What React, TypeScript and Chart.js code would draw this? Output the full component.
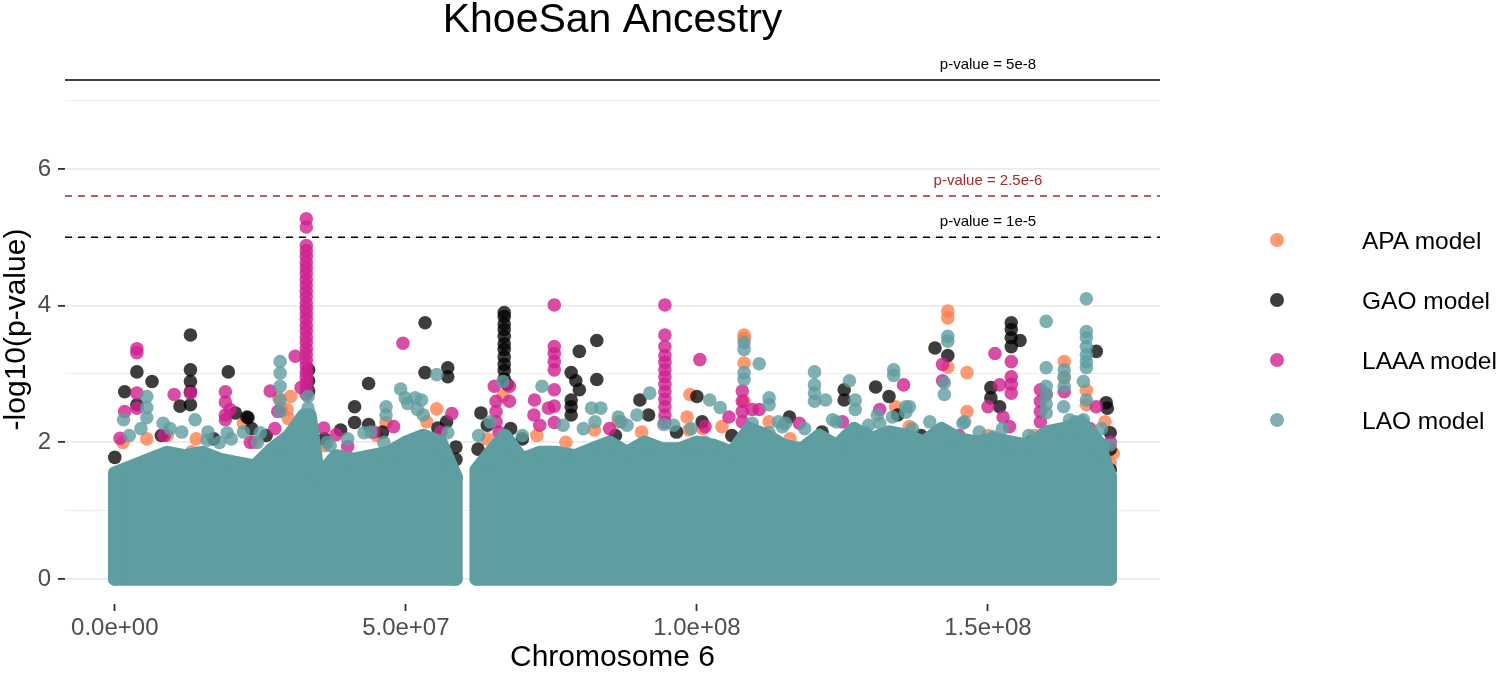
import React, { useEffect, useRef } from "react";
import { Chart, registerables } from "chart.js";

Chart.register(...registerables);

const FONT = '"Liberation Sans", Arial, Helvetica, sans-serif';

// axis ticks (positions in Mb, values in -log10 p)
const xTickValues = [0, 50, 100, 150];
const yTickValues = [0, 1, 2, 3, 4, 5, 6, 7];

// significance thresholds
const thresholdValues = [7.30103, 5.60206, 5];
const thresholdLabels = ["p-value = 5e-8", "p-value = 2.5e-6", "p-value = 1e-5"];
const thresholdColors = ["#000000", "#A52A2A", "#000000"];
const thresholdDashed = [false, true, true];
const thresholdLabelPos = 150;

// series
const seriesNames = ["APA model", "GAO model", "LAAA model", "LAO model"];
const seriesColors = [
  "rgba(255,127,80,0.8)",
  "rgba(0,0,0,0.76)",
  "rgba(208,32,144,0.8)",
  "rgba(95,158,160,0.8)",
];

// [position (Mb), -log10(p)]
const apaPoints: [number, number][] = [
  [0.3, 1.4], [0.6, 1.15], [1.4, 2.0], [5.5, 2.05], [9.0, 2.1], [13.2, 1.86], [14.0, 2.05],
  [22.1, 2.28], [24.0, 2.0], [28.2, 2.65], [28.6, 2.5], [29.6, 2.48], [29.8, 2.35], [30.2, 2.67],
  [36.0, 1.95], [45.0, 2.1], [46.6, 2.29], [53.6, 2.3], [55.3, 2.49], [64.0, 2.05],
  [66.7, 2.68], [72.5, 2.1], [77.5, 2.0], [82.4, 2.18], [86.5, 2.3], [88.7, 1.85], [90.5, 2.15],
  [98.3, 2.37], [98.6, 2.18], [98.8, 2.7], [101.0, 2.2], [104.3, 2.23],
  [108.1, 3.57], [108.1, 3.52], [108.1, 3.16], [108.1, 2.6], [112.4, 2.3], [112.4, 2.0], [116.0, 2.05],
  [120.5, 2.05], [127.0, 2.05], [134.1, 2.52], [136.5, 2.23],
  [143.1, 3.92], [143.1, 3.82], [143.1, 3.1], [146.4, 3.02], [146.4, 2.45], [150.0, 2.1], [158.0, 2.1],
  [163.1, 3.18], [163.1, 2.95], [166.9, 2.76], [166.9, 2.55], [170.1, 2.3], [170.8, 1.9],
  [171.0, 1.7], [171.0, 1.5], [171.5, 1.84],
];

const gaoPoints: [number, number][] = [
  [0.0, 1.78], [0.2, 1.5], [1.7, 2.74], [3.8, 3.03], [3.8, 2.55], [6.4, 2.89], [8.0, 2.1], [11.2, 2.53],
  [13.0, 3.57], [13.0, 3.06], [13.0, 2.89], [13.0, 2.74], [13.0, 2.55], [17.0, 2.05], [19.5, 3.03],
  [20.7, 2.43], [22.7, 2.37], [22.9, 2.36], [23.5, 2.2], [26.0, 2.1], [33.3, 3.06], [33.3, 2.9],
  [33.3, 2.75], [36.0, 2.05], [38.8, 2.18], [41.2, 2.52], [41.2, 2.29], [43.6, 2.86], [43.6, 2.26],
  [46.0, 2.15], [53.3, 3.75], [53.3, 3.02], [55.5, 2.21], [57.0, 2.3], [57.2, 3.09], [57.2, 2.96],
  [58.6, 1.93], [58.6, 1.75], [58.6, 1.48], [62.4, 1.9], [62.9, 2.43], [64.0, 2.25],
  [66.9, 3.9], [66.9, 3.84], [66.9, 3.73], [66.9, 3.65], [66.9, 3.55], [66.9, 3.44], [66.9, 3.36],
  [66.9, 3.25], [66.9, 3.14], [66.9, 3.05], [66.9, 2.93], [67.4, 2.85], [68.0, 2.2], [70.0, 2.05],
  [78.4, 3.02], [79.2, 2.9], [79.8, 3.33], [79.8, 2.77], [78.4, 2.62], [78.4, 2.52], [78.4, 2.4],
  [82.8, 3.49], [82.8, 2.92], [86.0, 2.1], [90.2, 2.62], [91.7, 2.4], [96.5, 2.15], [100.0, 2.67],
  [100.9, 2.3], [106.0, 2.1], [115.9, 2.37], [121.5, 2.15], [125.3, 2.77], [125.3, 2.62],
  [130.7, 2.81], [133.0, 2.67], [134.5, 2.4], [138.5, 2.1], [140.9, 3.38], [143.1, 3.27],
  [148.6, 2.0], [150.5, 2.8], [150.5, 2.65], [152.0, 2.52], [154.0, 3.75], [154.0, 3.65],
  [154.0, 3.53], [154.0, 3.4], [155.5, 3.49], [157.2, 2.0], [162.0, 2.1],
  [168.6, 3.33], [170.3, 2.58], [170.5, 2.5], [171.0, 2.14], [171.0, 1.9], [171.0, 1.6],
  [171.0, 1.3], [171.0, 1.0],
];

const laaaPoints: [number, number][] = [
  [0.9, 2.06], [1.7, 2.45], [3.8, 3.37], [3.8, 3.31], [3.8, 2.72], [3.8, 2.5], [8.5, 2.1], [10.2, 2.7],
  [13.0, 2.72], [19.0, 2.74], [19.0, 2.59], [19.0, 2.4], [19.0, 2.33], [19.8, 2.48], [23.3, 2.0],
  [26.7, 2.75], [27.5, 2.2], [28.0, 2.45], [31.0, 3.26], [32.0, 2.8],
  [32.9, 5.27], [32.9, 5.15], [32.9, 4.88], [32.9, 4.8], [32.9, 4.72], [32.9, 4.63], [32.9, 4.55],
  [32.9, 4.47], [32.9, 4.38], [32.9, 4.3], [32.9, 4.21], [32.9, 4.13], [32.9, 4.04], [32.9, 3.96],
  [32.9, 3.88], [32.9, 3.8], [32.9, 3.71], [32.9, 3.63], [32.9, 3.54], [32.9, 3.46], [32.9, 3.37],
  [32.9, 3.29], [32.9, 3.2], [32.9, 3.12], [32.9, 3.03], [32.9, 2.95], [32.9, 2.87], [32.9, 2.78],
  [32.9, 2.7],
  [35.9, 2.21], [38.0, 2.11], [40.0, 1.94], [44.5, 2.15], [47.9, 2.23], [49.5, 3.45], [56.0, 2.15],
  [57.9, 2.42], [65.2, 2.82], [65.5, 2.6], [65.5, 2.45], [65.5, 2.3], [66.0, 2.15],
  [67.8, 2.82], [67.8, 2.6], [72.0, 2.4], [72.1, 2.62], [73.0, 2.25], [74.5, 2.5],
  [75.5, 4.01], [75.5, 3.4], [75.5, 3.3], [75.5, 3.18], [75.5, 3.06], [75.5, 2.77], [75.5, 2.53],
  [75.5, 2.29], [85.0, 2.2],
  [94.5, 4.01], [94.5, 3.57], [94.5, 3.4], [94.5, 3.27], [94.5, 3.17], [94.5, 3.06], [94.5, 2.96],
  [94.5, 2.85], [94.5, 2.74], [94.5, 2.63], [94.5, 2.52], [94.5, 2.4], [94.5, 2.29],
  [100.5, 3.21], [101.4, 2.23], [105.5, 2.37], [107.8, 2.75], [107.8, 2.6], [107.8, 2.45],
  [107.8, 2.3], [109.5, 2.48], [110.7, 2.48], [117.6, 2.28], [125.0, 2.3], [131.4, 2.48],
  [135.5, 2.84], [142.2, 3.14], [142.2, 2.9], [145.0, 2.1], [150.0, 2.52], [151.2, 3.3],
  [152.0, 2.84], [152.6, 2.37], [153.7, 2.23], [154.0, 3.18], [154.0, 2.96], [154.0, 2.85],
  [154.0, 2.72], [159.0, 2.77], [159.0, 2.6], [159.0, 2.45], [159.0, 2.3], [160.0, 2.7],
  [163.1, 2.74], [167.5, 2.2], [168.6, 2.52], [171.0, 2.0],
];

const laoPoints: [number, number][] = [
  [1.5, 2.33], [2.5, 2.1], [4.5, 2.2], [5.5, 2.67], [5.5, 2.51], [5.5, 2.36], [8.3, 2.28],
  [9.5, 2.2], [11.5, 2.15], [13.8, 2.33], [15.9, 2.03], [16.0, 2.15], [18.0, 2.0], [19.3, 2.14],
  [20.0, 2.05], [22.1, 2.15], [24.5, 2.0], [25.0, 2.14], [28.4, 3.18], [28.4, 3.01], [28.4, 2.82],
  [28.4, 2.62], [28.4, 2.45], [33.2, 2.67], [33.2, 2.5], [36.5, 2.0], [37.0, 1.95], [40.0, 2.05],
  [42.8, 2.14], [44.0, 2.15], [46.2, 2.0], [46.6, 2.52], [46.6, 2.4], [49.1, 2.78], [49.9, 2.65],
  [50.3, 2.57], [51.6, 2.65], [52.0, 2.48], [52.7, 2.62], [53.0, 2.4], [55.3, 2.99], [57.2, 2.14],
  [62.5, 2.1], [64.5, 2.3], [66.7, 2.89], [70.0, 2.1], [73.4, 2.82], [77.0, 2.25], [80.5, 2.2],
  [81.9, 2.5], [82.5, 2.3], [83.5, 2.5], [86.5, 2.37], [87.0, 2.3], [88.0, 2.25], [89.7, 2.4],
  [91.9, 2.72], [94.3, 2.26], [96.0, 2.25], [99.0, 2.2], [101.4, 2.0], [102.2, 2.62], [104.0, 2.51],
  [108.1, 3.46], [108.1, 3.36], [108.1, 3.02], [108.1, 2.92], [109.5, 2.28], [110.7, 3.15],
  [112.4, 2.65], [112.4, 2.55], [112.4, 2.14], [114.0, 2.3], [114.7, 2.23], [115.2, 2.28],
  [118.5, 2.2], [120.2, 3.03], [120.2, 2.84], [120.2, 2.72], [120.2, 2.6], [122.1, 2.62],
  [123.3, 2.33], [124.0, 2.3], [126.2, 2.9], [127.2, 2.62], [127.2, 2.48], [129.0, 2.14],
  [129.5, 2.25], [131.0, 2.4], [131.4, 2.28], [133.6, 2.37], [133.8, 3.06], [133.8, 2.98],
  [135.9, 2.52], [135.9, 2.44], [136.5, 2.52], [137.0, 2.2], [140.0, 2.3], [142.5, 2.87],
  [142.5, 2.7], [143.1, 3.55], [143.1, 3.48], [145.7, 2.28], [146.0, 2.3], [148.5, 2.15],
  [150.9, 2.08], [152.5, 2.2], [157.0, 2.1], [160.0, 3.77], [160.0, 3.09], [160.0, 2.82],
  [160.0, 2.7], [160.0, 2.56], [160.0, 2.43], [163.0, 2.52], [163.1, 3.06], [163.1, 2.95],
  [163.1, 2.82], [164.0, 2.33], [165.0, 2.3], [166.4, 2.89], [166.4, 2.33], [166.9, 4.1],
  [166.9, 3.62], [166.9, 3.53], [166.9, 3.4], [166.9, 3.28], [166.9, 3.18], [166.9, 3.09],
  [166.9, 2.62], [169.5, 2.2], [169.8, 1.94], [171.0, 1.96],
];

// upper edge of the dense cloud of overlapping LAO points (Mb, -log10 p)
const bandLeftPos = [0, 3, 6, 9, 12, 15, 18, 21, 24, 27, 30, 32.5, 33.5, 35, 38, 41, 44, 47, 50, 53, 56, 58.6];
const bandLeftTop = [1.55, 1.65, 1.75, 1.85, 1.8, 1.85, 1.75, 1.7, 1.65, 1.9, 2.1, 2.4, 2.4, 1.5, 1.8, 1.75, 1.8, 1.85, 2.0, 2.1, 2.0, 1.5];
const bandRightPos = [62.1, 64, 67, 70, 73, 76, 79, 82, 85, 88, 91, 94, 97, 100, 103, 106, 109, 112, 115, 118, 121, 124, 127, 130, 133, 136, 139, 142, 145, 148, 151, 154, 157, 160, 163, 166, 169, 171];
const bandRightTop = [1.6, 1.8, 2.1, 1.75, 1.85, 1.85, 1.8, 1.9, 2.0, 1.85, 2.0, 1.9, 1.9, 2.0, 1.95, 1.85, 2.2, 2.1, 1.95, 1.9, 2.1, 1.95, 2.2, 2.05, 2.15, 2.1, 2.0, 2.2, 2.05, 2.0, 2.05, 2.0, 1.95, 2.15, 2.2, 2.3, 2.0, 1.5];

const BAND_COLOR = "#5F9EA0";
const POINT_RADIUS = 6.8;

const toXY = (pts: [number, number][]) => pts.map(([x, y]) => ({ x, y }));
const bandData = (pos: number[], top: number[]) => [
  { x: pos[0], y: 0 },
  ...pos.map((p, i) => ({ x: p, y: top[i] })),
  { x: pos[pos.length - 1], y: 0 },
];
const baseData = (pos: number[]) => [
  { x: pos[0], y: 0 },
  { x: pos[pos.length - 1], y: 0 },
];

const fmtSci = (mb: number) => {
  const v = mb * 1e6;
  if (v === 0) return "0.0e+00";
  const e = Math.floor(Math.log10(Math.abs(v)));
  const m = v / Math.pow(10, e);
  return m.toFixed(1) + "e+" + String(e).padStart(2, "0");
};

const thresholdPlugin = {
  id: "thresholds",
  afterDatasetsDraw(chart: any) {
    const { ctx, chartArea, scales } = chart;
    thresholdValues.forEach((v, i) => {
      const y = scales.y.getPixelForValue(v);
      ctx.save();
      ctx.strokeStyle = thresholdColors[i];
      ctx.lineWidth = 1.5;
      ctx.setLineDash(thresholdDashed[i] ? [7, 6] : []);
      ctx.beginPath();
      ctx.moveTo(chartArea.left, y);
      ctx.lineTo(chartArea.right, y);
      ctx.stroke();
      ctx.setLineDash([]);
      ctx.fillStyle = thresholdColors[i];
      ctx.font = `15px ${FONT}`;
      ctx.textAlign = "center";
      ctx.textBaseline = "middle";
      ctx.fillText(thresholdLabels[i], scales.x.getPixelForValue(thresholdLabelPos), y - 15);
      ctx.restore();
    });
  },
};

const scatterSet = (label: string, pts: [number, number][], color: string, order: number) => ({
  type: "scatter" as const,
  label,
  data: toXY(pts),
  backgroundColor: color,
  borderColor: "rgba(0,0,0,0)",
  borderWidth: 0,
  pointRadius: POINT_RADIUS,
  pointHoverRadius: POINT_RADIUS,
  order,
});

const bandSet = (data: any[], fill: any) => ({
  type: "line" as const,
  label: "",
  data,
  borderColor: BAND_COLOR,
  backgroundColor: BAND_COLOR,
  borderWidth: POINT_RADIUS * 2,
  borderJoinStyle: "round" as const,
  borderCapStyle: "round" as const,
  pointRadius: 0,
  pointHoverRadius: 0,
  tension: 0,
  fill,
  order: 1,
});

export default function App() {
  const canvasRef = useRef<HTMLCanvasElement | null>(null);

  useEffect(() => {
    if (!canvasRef.current) return;
    const chart = new Chart(canvasRef.current, {
      type: "scatter",
      data: {
        datasets: [
          scatterSet(seriesNames[0], apaPoints, seriesColors[0], 5),
          scatterSet(seriesNames[1], gaoPoints, seriesColors[1], 4),
          scatterSet(seriesNames[2], laaaPoints, seriesColors[2], 3),
          scatterSet(seriesNames[3], laoPoints, seriesColors[3], 2),
          bandSet(bandData(bandLeftPos, bandLeftTop), "origin"),
          bandSet(bandData(bandRightPos, bandRightTop), "origin"),
          bandSet(baseData(bandLeftPos), false),
          bandSet(baseData(bandRightPos), false),
        ] as any,
      },
      options: {
        animation: false,
        responsive: false,
        events: [],
        layout: { padding: { top: 0, right: 340, bottom: 0, left: 0 } },
        plugins: {
          legend: { display: false },
          tooltip: { enabled: false },
          title: {
            display: true,
            text: "KhoeSan Ancestry",
            fullSize: false,
            color: "#000000",
            font: { family: FONT, size: 41, weight: "normal", lineHeight: 1.0 },
            padding: { top: 0, bottom: 14 },
          },
        },
        scales: {
          x: {
            type: "linear",
            min: -8.55,
            max: 179.55,
            afterBuildTicks: (scale: any) => {
              scale.ticks = xTickValues.map((v) => ({ value: v }));
            },
            afterFit: (scale: any) => {
              scale.height = 69;
            },
            border: { display: false },
            grid: {
              drawOnChartArea: false,
              drawTicks: true,
              tickLength: 7,
              tickColor: "#333333",
              tickWidth: 1.8,
            },
            ticks: {
              color: "#4D4D4D",
              font: { family: FONT, size: 24 },
              padding: 3,
              maxRotation: 0,
              autoSkip: false,
              callback: (v: any) => fmtSci(Number(v)),
            },
            title: {
              display: true,
              text: "Chromosome 6",
              color: "#000000",
              font: { family: FONT, size: 30, lineHeight: 1.0 },
              padding: { top: 0, bottom: 0 },
            },
          },
          y: {
            type: "linear",
            min: -0.36505,
            max: 7.66608,
            afterBuildTicks: (scale: any) => {
              scale.ticks = yTickValues.map((v) => ({ value: v }));
            },
            afterFit: (scale: any) => {
              scale.width = 65;
            },
            border: { display: false },
            grid: {
              color: "#EBEBEB",
              lineWidth: (ctx: any) => (ctx.tick && ctx.tick.value % 2 === 0 ? 1.8 : 0.9),
              tickLength: 7,
              tickColor: (ctx: any) =>
                ctx.tick && ctx.tick.value % 2 === 0 ? "#333333" : "rgba(0,0,0,0)",
              tickWidth: 1.8,
            },
            ticks: {
              color: "#4D4D4D",
              font: { family: FONT, size: 24 },
              padding: 7,
              autoSkip: false,
              callback: (v: any) => (Number(v) % 2 === 0 ? String(v) : ""),
            },
            title: {
              display: true,
              text: "-log10(p-value)",
              color: "#000000",
              font: { family: FONT, size: 30, lineHeight: 1.0 },
              padding: { top: 2, bottom: 0 },
            },
          },
        },
      } as any,
      plugins: [thresholdPlugin],
    });
    return () => chart.destroy();
  }, []);

  const legendY = [240, 300, 360, 420];

  return (
    <div style={{ position: "absolute", left: 0, top: 0, width: 1500, height: 673, background: "#ffffff" }}>
      <canvas ref={canvasRef} width={1500} height={673} style={{ width: 1500, height: 673, display: "block" }} />
      {seriesNames.map((name, i) => (
        <React.Fragment key={name}>
          <div
            style={{
              position: "absolute",
              left: 1277 - 7,
              top: legendY[i] - 7,
              width: 14,
              height: 14,
              borderRadius: "50%",
              background: seriesColors[i],
            }}
          />
          <div
            style={{
              position: "absolute",
              left: 1362,
              top: legendY[i] + 1 - 15,
              height: 30,
              lineHeight: "30px",
              fontFamily: FONT,
              fontSize: 24.5,
              color: "#000000",
              whiteSpace: "nowrap",
            }}
          >
            {name}
          </div>
        </React.Fragment>
      ))}
    </div>
  );
}
